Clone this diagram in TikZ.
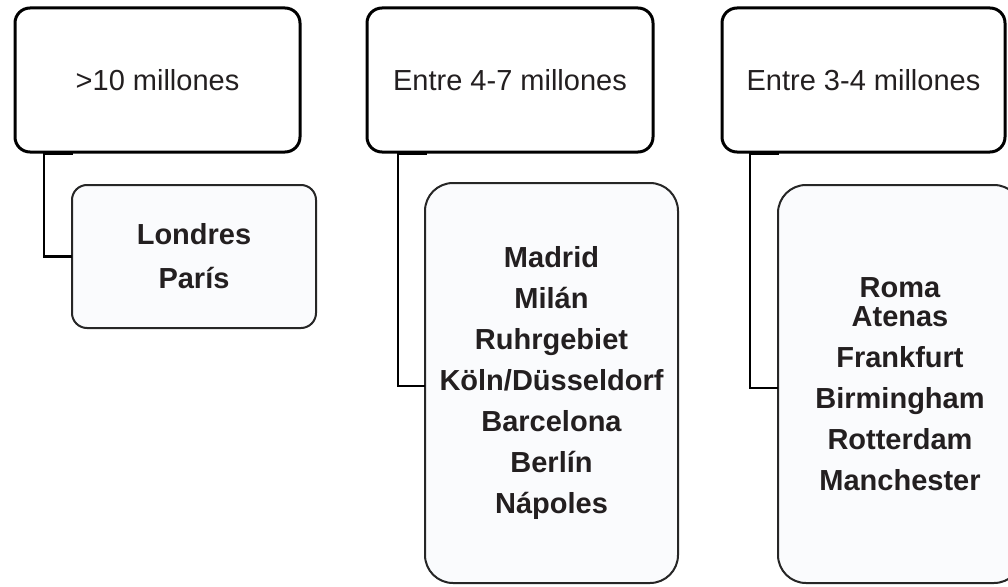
\documentclass[tikz,border=0pt]{standalone}
\usepackage{fontspec}
\setmainfont{Liberation Sans}
\usetikzlibrary{calc}
\definecolor{txt}{HTML}{231F20}
\definecolor{childfill}{HTML}{FAFBFD}
\definecolor{childline}{HTML}{262626}
\begin{document}
\begin{tikzpicture}[x=1pt,y=-1pt,
  header/.style={draw=black, line width=3pt, rounded corners=15pt, fill=white,
    outer sep=0pt, inner sep=0pt, text=txt, font=\fontsize{29}{35}\selectfont},
  child/.style={draw=childline, line width=2pt, fill=childfill, outer sep=0pt,
    inner sep=0pt, align=center, text=txt, font=\bfseries\fontsize{29}{41}\selectfont},
  link/.style={line width=2.4pt, black}]
\useasboundingbox (0,0) rectangle (1008,586);
\clip (0,0) rectangle (1008,586);
\fill[white] (0,0) rectangle (1008,586);

% header boxes
\node[header, minimum width=285pt, minimum height=144pt] (h1) at (157.5,80) {>10 millones};
\node[header, minimum width=286pt, minimum height=144pt] (h2) at (510,80) {Entre 4-7 millones};
\node[header, minimum width=283pt, minimum height=144pt] (h3) at (863.5,80) {Entre 3-4 millones};

% child boxes
\node[child, rounded corners=15pt, minimum width=244pt, minimum height=143pt] (c1) at (194,256.5)
  {Londres\\[3pt]París};
\node[child, rounded corners=28pt, minimum width=253pt, minimum height=400pt] (c2) at (551.5,383)
  {Madrid\\Milán\\Ruhrgebiet\\Köln/Düsseldorf\\Barcelona\\Berlín\\Nápoles};
\node[child, rounded corners=28pt, minimum width=244pt, minimum height=398pt] (c3) at (900,384)
  {Roma\\[-12pt]Atenas\\Frankfurt\\Birmingham\\Rotterdam\\Manchester};

% connectors
\draw[link] ([xshift=58pt,yshift=-1.5pt]h1.south west) -- ([xshift=29pt,yshift=-1.5pt]h1.south west) |- (c1.west);
\draw[link] ([xshift=60pt,yshift=-1.5pt]h2.south west) -- ([xshift=31pt,yshift=-1.5pt]h2.south west) |- ([yshift=-3pt]c2.west);
\draw[link] ([xshift=57pt,yshift=-1.5pt]h3.south west) -- ([xshift=28pt,yshift=-1.5pt]h3.south west) |- ([yshift=-4pt]c3.west);
\end{tikzpicture}
\end{document}
